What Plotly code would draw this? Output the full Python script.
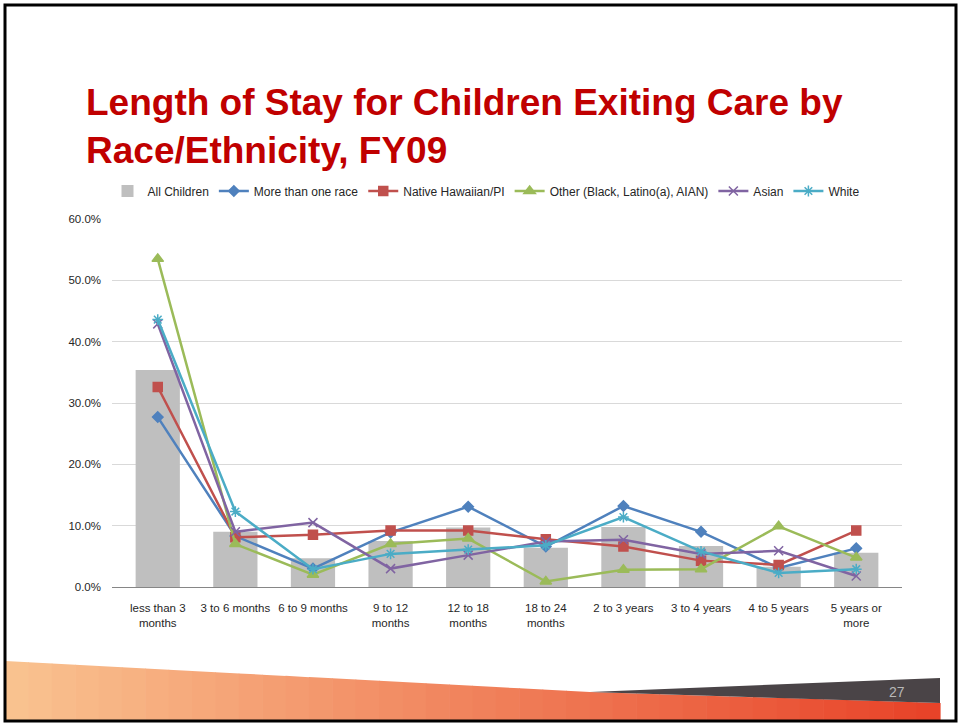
import plotly.graph_objects as go

categories = ["less than 3 months", "3 to 6 months", "6 to 9 months", "9 to 12 months",
              "12 to 18 months", "18 to 24 months", "2 to 3 years", "3 to 4 years",
              "4 to 5 years", "5 years or more"]
tick_labels = ["less than 3<br>months", "3 to 6 months", "6 to 9 months", "9 to 12<br>months",
               "12 to 18<br>months", "18 to 24<br>months", "2 to 3 years", "3 to 4 years",
               "4 to 5 years", "5 years or<br>more"]

all_children = [0.354, 0.090, 0.047, 0.075, 0.097, 0.064, 0.098, 0.067, 0.033, 0.056]
more_than_one = [0.277, 0.083, 0.030, 0.089, 0.131, 0.066, 0.132, 0.090, 0.031, 0.063]
native_hawaiian = [0.326, 0.081, 0.085, 0.092, 0.092, 0.078, 0.066, 0.043, 0.036, 0.092]
other = [0.535, 0.070, 0.020, 0.070, 0.079, 0.009, 0.028, 0.029, 0.099, 0.048]
asian = [0.429, 0.090, 0.105, 0.030, 0.052, 0.074, 0.077, 0.054, 0.059, 0.018]
white = [0.436, 0.123, 0.029, 0.054, 0.061, 0.068, 0.114, 0.058, 0.023, 0.029]

FONT = "Liberation Sans, Arial, sans-serif"

fig = go.Figure()
fig.add_trace(go.Bar(x=categories, y=all_children, name="All Children",
                     marker=dict(color="#BFBFBF", line=dict(width=0))))

series = [
    ("More than one race", more_than_one, "#4F81BD", dict(symbol="diamond", size=8)),
    ("Native Hawaiian/PI", native_hawaiian, "#C0504D", dict(symbol="square", size=9)),
    ("Other (Black, Latino(a), AIAN)", other, "#9BBB59", dict(symbol="triangle-up", size=10)),
    ("Asian", asian, "#8064A2", dict(symbol="x-thin-open", size=9)),
    ("White", white, "#4BACC6", dict(symbol="asterisk-open", size=9)),
]
for name, vals, color, mk in series:
    fig.add_trace(go.Scatter(
        x=categories, y=vals, name=name, mode="lines+markers",
        line=dict(color=color, width=2.5),
        marker=dict(color=color, line=dict(color=color, width=1.5), **mk)))

# pixel -> paper helpers (plot area: x 112..902, y 219..587)
def px(x):
    return (x - 112) / 790.0

def py(y):
    return (587 - y) / 368.0

shapes = []
# Orange gradient band (approximated with vertical strips)
n = 40
x0, x1 = 5.0, 940.0
def top_edge(x):
    if x <= 590:
        return 661 + (692 - 661) * (x - 5) / (590 - 5)
    return 692 + (703 - 692) * (x - 590) / (940 - 590)
c0 = (250, 196, 145)
c1 = (232, 66, 40)
for i in range(n):
    a = x0 + (x1 - x0) * i / n
    b = x0 + (x1 - x0) * (i + 1) / n + 0.6
    t = (i + 0.5) / n
    col = "rgb(%d,%d,%d)" % tuple(int(c0[k] + (c1[k] - c0[k]) * t) for k in range(3))
    path = "M %f,%f L %f,%f L %f,%f L %f,%f Z" % (
        px(a), py(top_edge(a)), px(b), py(top_edge(min(b, x1))), px(b), py(722), px(a), py(722))
    shapes.append(dict(type="path", xref="paper", yref="paper", path=path,
                       fillcolor=col, line=dict(width=0), layer="below"))
# Dark gray wedge
shapes.append(dict(type="path", xref="paper", yref="paper",
                   path="M %f,%f L %f,%f L %f,%f Z" % (px(590), py(692), px(940), py(678), px(940), py(703)),
                   fillcolor="#4A4447", line=dict(width=0)))
# Slide border
shapes.append(dict(type="rect", xref="paper", yref="paper",
                   x0=px(5), x1=px(956), y0=py(721), y1=py(5),
                   line=dict(color="black", width=3), fillcolor="rgba(0,0,0,0)"))

annotations = [
    dict(text="Length of Stay for Children Exiting Care by<br>Race/Ethnicity, FY09",
         xref="paper", yref="paper", x=px(84), y=py(80), xanchor="left", yanchor="top",
         align="left", showarrow=False,
         font=dict(family=FONT, size=37, color="#C00000", weight="bold")),
    dict(text="27", xref="paper", yref="paper", x=px(897), y=py(692), xanchor="center",
         yanchor="middle", showarrow=False, font=dict(family=FONT, size=14, color="#B8B8B8")),
]

fig.update_layout(
    width=964, height=725,
    margin=dict(l=112, r=62, t=219, b=138),
    paper_bgcolor="white", plot_bgcolor="white",
    font=dict(family=FONT, size=11, color="#262626"),
    bargap=0.43,
    showlegend=True,
    legend=dict(orientation="h", x=px(486), xanchor="center", y=py(191), yanchor="middle",
                font=dict(family=FONT, size=12, color="#262626"),
                itemwidth=30, tracegroupgap=0, bgcolor="rgba(0,0,0,0)"),
    xaxis=dict(tickmode="array", tickvals=categories, ticktext=tick_labels,
               showgrid=False, showline=True, linecolor="#868686", linewidth=1,
               ticks="", ticklabelstandoff=10,
               tickfont=dict(family=FONT, size=11.5, color="#262626")),
    yaxis=dict(range=[0, 0.6], dtick=0.1, tickformat=".1%", showgrid=True,
               gridcolor="#D9D9D9", gridwidth=1, zeroline=False, showline=False,
               ticks="", ticklabelstandoff=10,
               tickfont=dict(family=FONT, size=11.5, color="#262626")),
    shapes=shapes,
    annotations=annotations,
)

fig.write_html("out.html", config={"displayModeBar": False},
               post_script="document.body.style.margin='0px';")
